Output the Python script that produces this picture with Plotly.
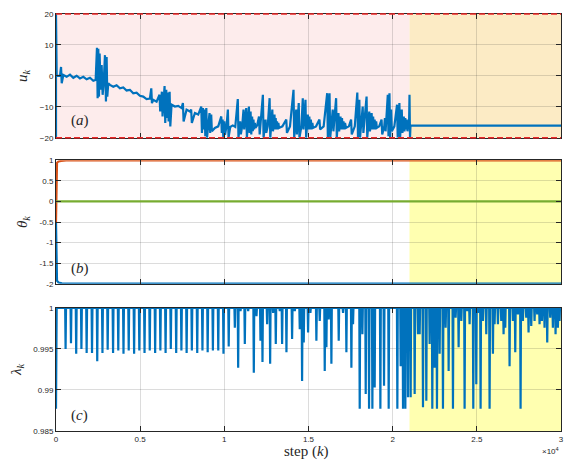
import plotly.graph_objects as go

# ---------------- data ----------------
step_max = 30000
switch_step = 21000

x_tick_vals = [0, 5000, 10000, 15000, 20000, 25000, 30000]
x_tick_text = ["0", "0.5", "1", "1.5", "2", "2.5", "3"]

u_tick_vals = [-20, -10, 0, 10, 20]
theta_tick_vals = [-2, -1.5, -1, -0.5, 0, 0.5, 1]
theta_tick_text = ["-2", "-1.5", "-1", "-0.5", "0", "0.5", "1"]
lam_tick_vals = [0.985, 0.99, 0.995, 1.0]
lam_tick_text = ["0.985", "0.99", "0.995", "1"]

# control input u_k (vertices of the trace)
u_steps = [
    0, 0, 40, 237, 300, 340, 435, 633, 831, 1029, 1226, 1424, 1622, 1820, 2018, 2216, 2355,
    2434, 2473, 2513, 2553, 2592, 2652, 2711, 2770, 2830, 2909, 2968, 3008, 3047, 3106,
    3205, 3403, 3600, 3798, 3996, 4194, 4392, 4589, 4787, 4985, 5183, 5381, 5579,
    5660, 5700, 5777, 5975,
    6150, 6190, 6290, 6330, 6450, 6490, 6550, 6590, 6650, 6690, 6750, 6790, 6865,
    7063, 7261, 7459, 7540, 7580, 7756, 7954, 8030, 8070, 8251, 8449,
    8630, 8670, 8730, 8770, 8830, 8870, 8930, 8970, 9043, 9120, 9160, 9220, 9260, 9439, 9637, 9820, 9850,
    9900, 9940, 10000, 10040, 10130, 10210, 10250, 10350, 10500, 10650, 10800, 10840, 10940, 10980,
    11060, 11140, 11180, 11300, 11340, 11460, 11500, 11560, 11600, 11650, 11690, 11730, 11770, 11810,
    11850, 11950, 12060, 12100, 12290, 12330, 12450, 12490, 12580, 12690, 12730, 12850, 12890, 12980,
    13010, 13050, 13090, 13130, 13170, 13210, 13250, 13450, 13680, 13720, 13900, 14110, 14150, 14270,
    14310, 14420, 14460, 14580, 14660, 14700, 14820, 14860, 14960, 15000, 15050, 15090, 15140, 15180,
    15230, 15270, 15450, 15650, 15690, 15900, 16110, 16150, 16250, 16290, 16440, 16480, 16640, 16680,
    16780, 16820, 16900, 16940, 16990, 17030, 17080, 17120, 17170, 17230, 17400, 17530, 17570, 17750,
    17900, 17940, 18020, 18060, 18220, 18260, 18450, 18490, 18610, 18650, 18750, 18790, 18840, 18880,
    18930, 18970, 19020, 19060, 19200, 19340, 19380, 19500, 19540, 19580,
    19710, 19750, 19810, 19850, 19910, 19950, 20100, 20260, 20300, 20400, 20440, 20540, 20580, 20660,
    20700, 20750, 20790, 20840, 20880, 20930, 20970, 21000, 21030, 21060, 30000,
]
u_values = [
    -20, 20, 0, 0, 2.9, -2.4, 0.3, -0.3, 0.4, -0.6, 0.05, -0.8, -0.3, -1.1, -0.6, -1.55, -1.3,
    9.1, -7.2, 8.8, -6.7, 7.2, -4.5, 3.5, -6.1, -2.4, 6.7, -8.3, 6.1, -6.7, -2.4,
    -2.9, -3.5, -3.0, -4.0, -3.7, -4.7, -4.5, -5.6, -5.4, -6.45, -6.7, -7.5, -7.3,
    -4.0, -8.8, -7.7, -8.3,
    -6.1, -11.5, -5.1, -13.1, -3.3, -15.2, -4.5, -13.6, -5.4, -14.7, -5.1, -16.3, -9.3,
    -9.9, -9.7, -10.4, -8.8, -14.7, -10.9, -11.5, -10.9, -15.2, -12.0, -12.5,
    -9.9, -18.4, -10.4, -17.3, -10.9, -19.5, -10.4, -20, -15.2, -12.0, -18.4, -12.5, -17.9, -16.8, -16.3, -13.1, -18.4,
    -14.1, -20, -14.7, -19, -16.3, -10.9, -20, -16.5, -16.0, -16.5, -7.5, -20, -14.7, -18.9,
    -16.3, -10.9, -17.3, -10.4, -20, -9.9, -18.4, -11.5, -18.9, -13.1, -17.9, -14.1, -17.3, -15.2,
    -16.8, -16.0, -13.1, -18.9, -6.1, -20, -14.1, -18.4, -16.3, -7.2, -20, -10.9, -17.9, -12.5,
    -17.3, -13.6, -17.3, -14.7, -17.3, -15.2, -16.8, -16.3, -14.1, -18.4, -16.3, -4.5, -20, -10.9,
    -18.9, -8.8, -20, -16.3, -7.2, -17.3, -7.7, -20, -12.5, -17.3, -13.1, -17.3, -14.1, -17.3,
    -15.2, -16.8, -16.3, -14.1, -17.3, -16.3, -5.6, -20, -5.6, -20, -10.9, -17.9, -7.2, -20,
    -12.0, -17.9, -13.1, -17.3, -13.6, -17.3, -14.7, -17.3, -15.2, -16.8, -16.3, -14.1, -18.9, -16.3,
    -5.4, -20, -7.7, -20, -9.9, -18.4, -6.7, -20, -11.5, -17.9, -12.0, -17.3, -13.1, -17.3,
    -14.1, -17.3, -14.7, -16.8, -16.3, -14.1, -18.9, -16.3, -13.6, -17.9,
    -6.1, -19.5, -5.6, -20, -10.9, -17.9, -16.3, -9.3, -20, -8.8, -20, -10.9, -18.4, -13.1,
    -17.9, -13.6, -17.3, -14.1, -17.9, -14.7, -16.8, -6.1, -20, -16.05, -16.05,
]

# parameter estimates theta_k
theta1_steps = [0, 20, 60, 150, 300, 600, 1000, 30000]
theta1_values = [-0.5, 0.85, 0.94, 0.97, 0.985, 0.995, 1.0, 1.0]
theta2_steps = [0, 30000]
theta2_values = [0.0, 0.0]
theta3_steps = [0, 20, 60, 150, 350, 800, 30000]
theta3_values = [-0.5, -1.85, -1.93, -1.97, -1.99, -2.0, -2.0]

# forgetting factor lambda_k
lam_start_steps = [0, 40]
lam_start_values = [0.9877, 1.0]
lam_spike_steps = [
    570, 890, 1200, 1510, 1820, 2140, 2450, 2760, 3070, 3390, 3700, 4010, 4320, 4640, 4950, 5260,
    5570, 5890, 6200, 6510, 6820, 7140, 7450, 7760, 8070, 8390, 8700, 9010, 9320, 9640, 9950, 10260,
    10624, 10822, 10960, 11217, 11415, 11751, 11910, 12147, 12266, 12543, 12721, 12899, 13057, 13294,
    13432, 13690, 14026, 14184, 14481, 14619, 14718, 14975, 15113, 15469, 15668, 15965, 16064, 16202,
    16360, 16796, 17053, 17251, 17548, 17646, 18043, 18202, 18399, 18597, 18795, 18932, 19270, 19487,
    19764, 20278, 20476, 20615, 20753, 20911, 21069, 21307, 21505, 21603, 21801, 21999, 22197, 22355,
    22493, 22632, 22790, 22988, 23147, 23325, 23582, 23740, 23918, 24076, 24274, 24432, 24571, 24789,
    24967, 25066, 25224, 25362, 25560, 25758, 25956, 26055, 26253, 26451, 26589, 26688, 26945, 27143,
    27282, 27440, 27599, 27737, 27935, 28073, 28232, 28430, 28588, 28727, 28865, 29023, 29182, 29360,
    29518, 29677, 29815, 29914,
]
lam_spike_depths = [
    0.9950, 0.9957, 0.9944, 0.9950, 0.9945, 0.9945, 0.9935, 0.9945, 0.9949, 0.9945, 0.9948, 0.9944,
    0.9948, 0.9944, 0.9948, 0.9945, 0.9948, 0.9945, 0.9948, 0.9945, 0.9950, 0.9945, 0.9948, 0.9945,
    0.9948, 0.9945, 0.9948, 0.9946, 0.9948, 0.9948, 0.9944, 0.9953,
    0.9976, 0.9927, 0.9996, 0.9956, 0.9996, 0.9921, 0.9990, 0.9960, 0.9934, 0.9980, 0.9932, 0.9994,
    0.9956, 0.9996, 0.9956, 0.9946, 0.9962, 0.9996, 0.9974, 0.9911, 0.9958, 0.9970, 0.9994, 0.9960,
    0.9984, 0.9923, 0.9952, 0.9986, 0.9932, 0.9960, 0.9994, 0.9946, 0.9927, 0.9980, 0.9877, 0.9968,
    0.9895, 0.9877, 0.9877, 0.9903, 0.9877, 0.9905, 0.9877, 0.9877, 0.9929, 0.9877, 0.9877, 0.9891,
    0.9891, 0.9895, 0.9968, 0.9968, 0.9879, 0.9887, 0.9956, 0.9877, 0.9927, 0.9877, 0.9944, 0.9877,
    0.9976, 0.9923, 0.9877, 0.9988, 0.9952, 0.9984, 0.9877, 0.9996, 0.9980, 0.9877, 0.9907, 0.9994,
    0.9877, 0.9984, 0.9968, 0.9877, 0.9944, 0.9980, 0.9980, 0.9984, 0.9968, 0.9976, 0.9929, 0.9984,
    0.9946, 0.9992, 0.9877, 0.9984, 0.9988, 0.9970, 0.9978, 0.9984, 0.9992, 0.9980, 0.9984, 0.9976,
    0.9958, 0.9988, 0.9976, 0.9968, 0.9976, 0.9984,
]

# ---------------- build lambda trace from spikes ----------------
lam_x = list(lam_start_steps)
lam_y = list(lam_start_values)
for k, d in zip(lam_spike_steps, lam_spike_depths):
    lam_x += [k - 25, k, k + 25]
    lam_y += [1.0, d, 1.0]
lam_x.append(step_max)
lam_y.append(1.0)

# ---------------- styling ----------------
BLUE = "#0072BD"
ORANGE = "#D95319"
GREEN = "#77AC30"
AX = "#262626"
GRID = "rgba(38,38,38,0.16)"
PINK = "#FDECEC"
PEACH = "#FCEBC5"
YELLOW = "#FFFFB0"
SANS = "Liberation Sans, Arial, sans-serif"
SERIF = "Liberation Serif, Times New Roman, serif"

dom_a = [0.7031, 1.0]
dom_b = [0.3532, 0.6492]
dom_c = [0.0, 0.2952]

fig = go.Figure()
lw = 2.2
fig.add_trace(go.Scatter(x=u_steps, y=u_values, mode="lines", line=dict(color=BLUE, width=lw),
                         xaxis="x", yaxis="y", cliponaxis=False, showlegend=False))
fig.add_trace(go.Scatter(x=theta1_steps, y=theta1_values, mode="lines", line=dict(color=ORANGE, width=lw),
                         xaxis="x2", yaxis="y2", cliponaxis=False, showlegend=False))
fig.add_trace(go.Scatter(x=theta2_steps, y=theta2_values, mode="lines", line=dict(color=GREEN, width=lw),
                         xaxis="x2", yaxis="y2", cliponaxis=False, showlegend=False))
fig.add_trace(go.Scatter(x=theta3_steps, y=theta3_values, mode="lines", line=dict(color=BLUE, width=lw),
                         xaxis="x2", yaxis="y2", cliponaxis=False, showlegend=False))
fig.add_trace(go.Scatter(x=lam_x, y=lam_y, mode="lines", line=dict(color=BLUE, width=lw),
                         xaxis="x3", yaxis="y3", cliponaxis=False, showlegend=False))

common = dict(ticks="inside", ticklen=5, tickwidth=1, tickcolor=AX, showline=True, linecolor=AX,
              linewidth=1, mirror="ticks", showgrid=True, gridcolor=GRID, gridwidth=1, zeroline=False,
              tickfont=dict(family=SANS, size=8, color=AX))

xcommon = dict(common, range=[0, step_max], tickmode="array", tickvals=x_tick_vals, ticktext=x_tick_text)

title_font = dict(family=SERIF, size=15, color=AX)

fig.update_layout(
    width=574, height=460,
    margin=dict(l=56, r=12, t=10, b=29),
    paper_bgcolor="white", plot_bgcolor="white",
    xaxis=dict(xcommon, anchor="y", showticklabels=False),
    xaxis2=dict(xcommon, anchor="y2", showticklabels=False, matches="x"),
    xaxis3=dict(xcommon, anchor="y3", matches="x"),
    yaxis=dict(common, domain=dom_a, anchor="x", range=[-20, 20], tickmode="array", tickvals=u_tick_vals,
               title=dict(text="<i>u<sub>k</sub></i>", font=title_font, standoff=8)),
    yaxis2=dict(common, domain=dom_b, anchor="x2", range=[-2, 1], tickmode="array",
                tickvals=theta_tick_vals, ticktext=theta_tick_text,
                title=dict(text="<i>θ<sub>k</sub></i>", font=title_font, standoff=8)),
    yaxis3=dict(common, domain=dom_c, anchor="x3", range=[0.985, 1.0], tickmode="array",
                tickvals=lam_tick_vals, ticktext=lam_tick_text,
                title=dict(text="<i>λ<sub>k</sub></i>", font=title_font, standoff=8)),
)

shapes = [
    dict(type="rect", xref="x", yref="y domain", x0=0, x1=switch_step, y0=0, y1=1,
         fillcolor=PINK, line=dict(width=0), layer="below"),
    dict(type="rect", xref="x", yref="y domain", x0=switch_step, x1=step_max, y0=0, y1=1,
         fillcolor=PEACH, line=dict(width=0), layer="below"),
    dict(type="rect", xref="x2", yref="y2 domain", x0=switch_step, x1=step_max, y0=0, y1=1,
         fillcolor=YELLOW, line=dict(width=0), layer="below"),
    dict(type="rect", xref="x3", yref="y3 domain", x0=switch_step, x1=step_max, y0=0, y1=1,
         fillcolor=YELLOW, line=dict(width=0), layer="below"),
    dict(type="line", xref="paper", yref="paper", x0=0, x1=1, y0=dom_a[1], y1=dom_a[1],
         line=dict(color="rgb(235,40,40)", width=1.5, dash="6px,3px"), layer="above"),
    dict(type="line", xref="paper", yref="paper", x0=0, x1=1, y0=dom_a[0], y1=dom_a[0],
         line=dict(color="rgb(235,40,40)", width=1.5, dash="6px,3px"), layer="above"),
]
fig.update_layout(shapes=shapes)

ann_font = dict(family=SERIF, size=15, color=AX)
annotations = [
    dict(text="(<i>a</i>)", xref="paper", yref="paper", x=0.0474, y=0.7435, xanchor="center",
         yanchor="middle", showarrow=False, font=ann_font),
    dict(text="(<i>b</i>)", xref="paper", yref="paper", x=0.0474, y=0.3903, xanchor="center",
         yanchor="middle", showarrow=False, font=ann_font),
    dict(text="(<i>c</i>)", xref="paper", yref="paper", x=0.0474, y=0.038, xanchor="center",
         yanchor="middle", showarrow=False, font=ann_font),
    dict(text="step (<i>k</i>)", xref="paper", yref="paper", x=0.496, y=-0.049, xanchor="center",
         yanchor="middle", showarrow=False, font=dict(family=SERIF, size=15, color=AX)),
    dict(text="×10<sup>4</sup>", xref="paper", yref="paper", x=1.0, y=-0.049, xanchor="right",
         yanchor="middle", showarrow=False, font=dict(family=SANS, size=8, color=AX)),
]
fig.update_layout(annotations=annotations)

fig.write_html("out.html")
